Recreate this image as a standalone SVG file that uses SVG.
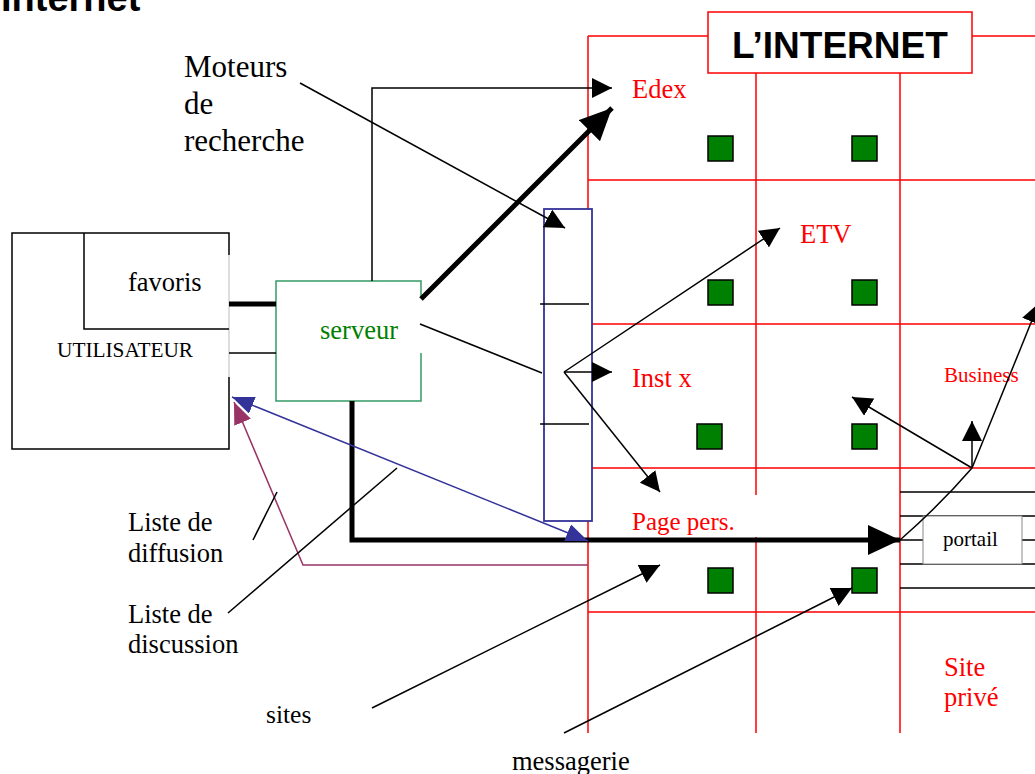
<svg xmlns="http://www.w3.org/2000/svg" width="1035" height="774" viewBox="0 0 1035 774">
<style>
.t{font-family:"Liberation Serif","Times New Roman",serif;fill:#000}
.r{fill:#ff0000}
.g{stroke:#ff0000;stroke-width:1.5;fill:none}
.sq{fill:#008000;stroke:#000;stroke-width:1.5}
.k{stroke:#000;stroke-width:1.5;fill:none}
.kb{stroke:#000;stroke-width:5;fill:none}
.b{font-family:"Liberation Sans",Arial,sans-serif;font-weight:bold;fill:#000}
</style>
<defs>
<marker id="a" viewBox="0 0 20 20" markerWidth="20" markerHeight="20" refX="20" refY="10" orient="auto" markerUnits="userSpaceOnUse"><path d="M0,0L20,10L0,20z" fill="#000"/></marker>
<marker id="ab" viewBox="0 0 32 30" markerWidth="32" markerHeight="30" refX="32" refY="15" orient="auto" markerUnits="userSpaceOnUse"><path d="M0,0L32,15L0,30z" fill="#000"/></marker>
<marker id="abl" viewBox="0 0 22 18" markerWidth="22" markerHeight="18" refX="22" refY="9" orient="auto-start-reverse" markerUnits="userSpaceOnUse"><path d="M0,0L22,9L0,18z" fill="#333399"/></marker>
<marker id="ap" viewBox="0 0 22 18" markerWidth="22" markerHeight="18" refX="22" refY="9" orient="auto" markerUnits="userSpaceOnUse"><path d="M0,0L22,9L0,18z" fill="#993366"/></marker>
</defs>
<rect width="1035" height="774" fill="#fff"/>
<text class="b" x="1" y="11" font-size="38">Internet</text>

<g id="internet-grid">
<path class="g" d="M588,36H1035M588,180H1035M588,324H1035M588,468H1035M588,612H1035M588,36V733M756,73V733M900,73V733"/>
<rect x="708" y="12" width="264" height="61" fill="#fff" stroke="#ff0000" stroke-width="1.5"/>
<text class="b" x="732" y="58" font-size="37">L’INTERNET</text>
</g>

<g id="sites-squares">
<rect class="sq" x="708" y="136" width="25" height="25"/>
<rect class="sq" x="852" y="136" width="25" height="25"/>
<rect class="sq" x="708" y="280" width="25" height="25"/>
<rect class="sq" x="852" y="280" width="25" height="25"/>
<rect class="sq" x="697" y="424" width="25" height="25"/>
<rect class="sq" x="852" y="424" width="25" height="25"/>
<rect class="sq" x="708" y="568" width="25" height="25"/>
<rect class="sq" x="852" y="568" width="25" height="25"/>
</g>

<g id="cell-labels">
<text class="t r" x="632" y="98" font-size="26.5">Edex</text>
<text class="t r" x="800" y="243" font-size="26.5">ETV</text>
<text class="t r" x="632" y="387" font-size="26.5">Inst x</text>
<text class="t r" x="944" y="382" font-size="21">Business</text>
<rect x="595" y="495" width="162" height="42" fill="#fff"/>
<text class="t r" x="632" y="530" font-size="25">Page pers.</text>
<text class="t r" x="944" y="676" font-size="26.5">Site</text>
<text class="t r" x="944" y="706" font-size="26.5">privé</text>
</g>

<g id="portail">
<path class="k" d="M900,492H1035M900,516H1035M900,564H1035M900,588H1035M900,540H1035"/>
<rect x="923" y="516" width="99" height="48" fill="#fff" stroke="#888" stroke-width="1"/>
<text class="t" x="943" y="546" font-size="21">portail</text>
</g>

<g id="utilisateur">
<path d="M229,255V233H12V449H229V377" fill="#fff" stroke="#000" stroke-width="1.5"/>
<line x1="229" y1="255" x2="229" y2="377" stroke="#bbb" stroke-width="1"/>
<text class="t" x="57" y="357" font-size="21.3">UTILISATEUR</text>
</g>
<g id="favoris">
<path d="M229,329H84V233" fill="none" stroke="#000" stroke-width="1.5"/>
<text class="t" x="128" y="291" font-size="26.5">favoris</text>
</g>

<g id="serveur">
<path d="M421,298V281H276V401H421V353" fill="#fff" stroke="#339966" stroke-width="1.5"/>
<text class="t" x="320" y="339" font-size="26.5" style="fill:#008000">serveur</text>
</g>

<g id="moteurs-bar">
<rect x="544" y="209" width="48" height="312" fill="#fff" stroke="#333399" stroke-width="1.8"/>
<path class="k" d="M540,304H589M540,424H589"/>
</g>

<g id="labels">
<text class="t" x="184" y="77" font-size="31">Moteurs</text>
<text class="t" x="184" y="114" font-size="31">de</text>
<text class="t" x="184" y="151" font-size="31">recherche</text>
<text class="t" x="128" y="531" font-size="26.5">Liste de</text>
<text class="t" x="128" y="562" font-size="26.5">diffusion</text>
<text class="t" x="128" y="623" font-size="26.5">Liste de</text>
<text class="t" x="128" y="653" font-size="26.5">discussion</text>
<text class="t" x="266" y="723" font-size="25.5">sites</text>
<text class="t" x="512" y="770" font-size="26.5">messagerie</text>
</g>

<g id="connectors">
<line class="kb" x1="229" y1="304" x2="276" y2="304" stroke-width="4"/>
<line class="k" x1="229" y1="353" x2="276" y2="353"/>
<path class="k" d="M372,281V88H612" marker-end="url(#a)"/>
<line class="kb" x1="421" y1="299" x2="612" y2="108" marker-end="url(#ab)"/>
<line class="k" x1="300" y1="83" x2="565" y2="228" marker-end="url(#a)"/>
<line class="k" x1="420" y1="324" x2="542" y2="373"/>
<line class="k" x1="564" y1="372" x2="612" y2="372" marker-end="url(#a)"/>
<line class="k" x1="564" y1="372" x2="780" y2="228" marker-end="url(#a)"/>
<line class="k" x1="564" y1="372" x2="660" y2="492" marker-end="url(#a)"/>
<path class="kb" d="M352,401V540H900" marker-end="url(#ab)"/>
<line x1="232" y1="397" x2="588" y2="541" stroke="#333399" stroke-width="1.5" marker-start="url(#abl)" marker-end="url(#abl)"/>
<path d="M588,565H303L234,402" fill="none" stroke="#993366" stroke-width="1.5" marker-end="url(#ap)"/>
<line class="k" x1="253" y1="540" x2="277" y2="492"/>
<line class="k" x1="228" y1="613" x2="397" y2="468"/>
<line class="k" x1="372" y1="708" x2="660" y2="565" marker-end="url(#a)"/>
<line class="k" x1="564" y1="733" x2="852" y2="588" marker-end="url(#a)"/>
<path class="k" d="M900,540Q940,505 972,468"/>
<line class="k" x1="972" y1="468" x2="972" y2="421" marker-end="url(#a)"/>
<line class="k" x1="972" y1="468" x2="852" y2="397" marker-end="url(#a)"/>
<line class="k" x1="972" y1="468" x2="1039" y2="303" marker-end="url(#a)"/>
</g>
</svg>
